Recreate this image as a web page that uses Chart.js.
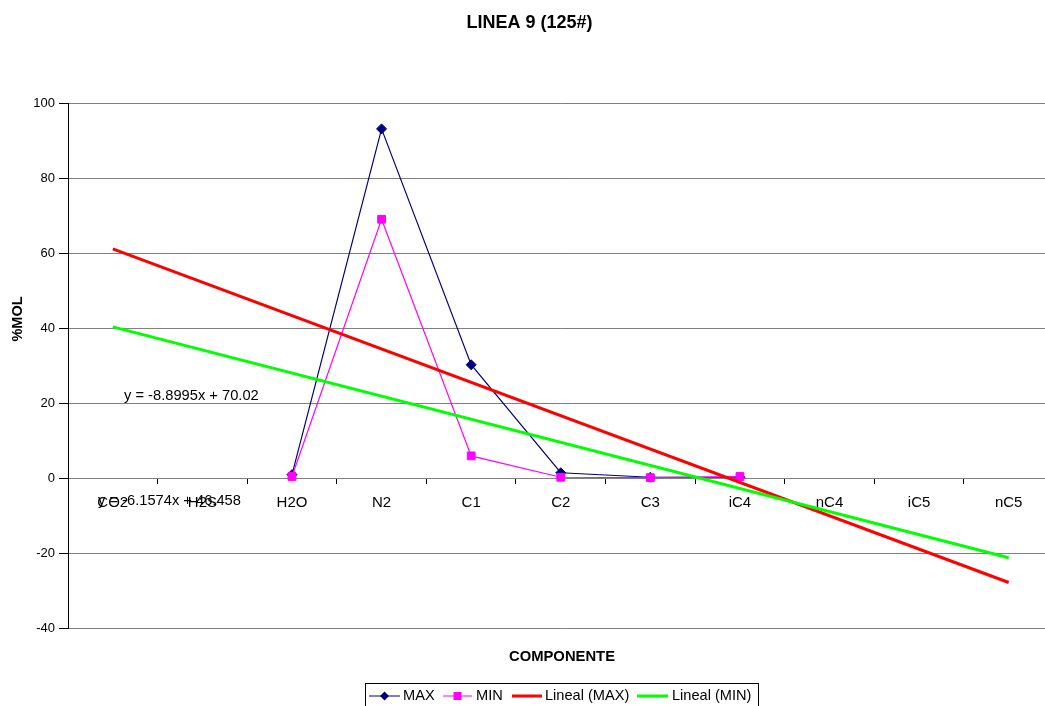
<!DOCTYPE html>
<html>
<head>
<meta charset="utf-8">
<script src="https://cdn.jsdelivr.net/npm/chart.js@4"></script>
<style>
html,body{margin:0;padding:0;overflow:hidden;background:#fff;}
canvas{display:block;}
</style>
</head>
<body>
<canvas id="c" width="1060" height="706"></canvas>
<script>
const chartTitle = 'LINEA 9 (125#)';
const xTitle = 'COMPONENTE';
const yTitle = '%MOL';
const categories = ['CO2','H2S','H2O','N2','C1','C2','C3','iC4','nC4','iC5','nC5'];
const maxValues = [null,null,0.9,93.1,30.2,1.4,0.2,0.2,null,null,null];
const minValues = [null,null,0.4,69.0,5.9,0.2,0.1,0.4,null,null,null];
const trendMaxValues = [61.12,null,null,null,null,null,null,null,null,null,-27.87];
const trendMinValues = [40.30,null,null,null,null,null,null,null,null,null,-21.27];
const yMin = -40, yMax = 100, yStep = 20;
const seriesNames = ['MAX','MIN','Lineal (MAX)','Lineal (MIN)'];
const eqMax = 'y = -8.8995x + 70.02';
const eqMin = 'y = -6.1574x + 46.458';

const FONT = '"Liberation Sans", Arial, sans-serif';

const textPlugin = {
  id: 'texts',
  afterDraw(chart) {
    const ctx = chart.ctx;
    ctx.save();
    ctx.fillStyle = '#000';
    // title
    ctx.font = 'bold 18px ' + FONT;
    ctx.textAlign = 'center';
    ctx.textBaseline = 'middle';
    ctx.fillText(chartTitle, 529.5, 23);
    // x title
    ctx.font = 'bold 14.8px ' + FONT;
    ctx.fillText(xTitle, 562, 657);
    // y title
    ctx.font = 'bold 14.5px ' + FONT;
    ctx.save();
    ctx.translate(18, 319);
    ctx.rotate(-Math.PI / 2);
    ctx.fillText(yTitle, 0, 0);
    ctx.restore();
    // equations
    ctx.font = '14.7px ' + FONT;
    ctx.textAlign = 'left';
    ctx.fillText(eqMax, 124, 396);
    ctx.fillText(eqMin, 98, 501);
    // legend
    const bx = 365, by = 683, bw = 393, bh = 26, cy = 696;
    ctx.fillStyle = '#fff';
    ctx.fillRect(bx, by, bw, bh);
    ctx.strokeStyle = '#000';
    ctx.lineWidth = 1;
    ctx.strokeRect(bx + 0.5, by + 0.5, bw, bh);
    const items = [
      {x1: 369, x2: 400, color: '#000080', lw: 1, marker: 'diamond', tx: 403},
      {x1: 443, x2: 472, color: '#FF00FF', lw: 1, marker: 'square', tx: 476},
      {x1: 512, x2: 542, color: '#FF0000', lw: 3, marker: null, tx: 545},
      {x1: 637, x2: 668, color: '#00FF00', lw: 3, marker: null, tx: 672}
    ];
    ctx.font = '14.6px ' + FONT;
    items.forEach((it, i) => {
      ctx.strokeStyle = it.color;
      ctx.lineWidth = it.lw;
      ctx.beginPath();
      ctx.moveTo(it.x1, cy);
      ctx.lineTo(it.x2, cy);
      ctx.stroke();
      const mx = (it.x1 + it.x2) / 2;
      ctx.fillStyle = it.color;
      if (it.marker === 'diamond') {
        ctx.beginPath();
        ctx.moveTo(mx, cy - 4.5); ctx.lineTo(mx + 4.5, cy); ctx.lineTo(mx, cy + 4.5); ctx.lineTo(mx - 4.5, cy);
        ctx.closePath(); ctx.fill();
      } else if (it.marker === 'square') {
        ctx.fillRect(mx - 4, cy - 4, 8, 8);
      }
      ctx.fillStyle = '#000';
      ctx.textBaseline = 'middle';
      ctx.fillText(seriesNames[i], it.tx, cy);
    });
    ctx.restore();
  }
};

new Chart(document.getElementById('c'), {
  type: 'line',
  data: {
    labels: categories,
    datasets: [
      {label: seriesNames[0], data: maxValues, borderColor: '#000080', backgroundColor: '#000080', borderWidth: 1.2,
       pointStyle: 'rectRot', pointRadius: 5, pointBorderWidth: 1, order: 3, spanGaps: false},
      {label: seriesNames[1], data: minValues, borderColor: '#FF00FF', backgroundColor: '#FF00FF', borderWidth: 1.2,
       pointStyle: 'rect', pointRadius: 5.5, pointBorderWidth: 1, order: 2, spanGaps: false},
      {label: seriesNames[2], data: trendMaxValues, borderColor: '#FF0000', borderWidth: 3, pointRadius: 0,
       spanGaps: true, order: 1},
      {label: seriesNames[3], data: trendMinValues, borderColor: '#00FF00', borderWidth: 3, pointRadius: 0,
       spanGaps: true, order: 0}
    ]
  },
  options: {
    responsive: false,
    animation: false,
    devicePixelRatio: 1,
    layout: {padding: {left: 0, top: 103, right: 5, bottom: 78}},
    plugins: {legend: {display: false}, title: {display: false}, tooltip: {enabled: false}},
    elements: {line: {tension: 0}},
    scales: {
      x: {
        type: 'category',
        position: {y: 0},
        offset: true,
        grid: {display: true, drawOnChartArea: false, drawTicks: true, tickLength: 5, offset: true, color: '#000', tickColor: '#000'},
        border: {display: true, color: '#808080', width: 1},
        ticks: {color: '#000', font: {family: FONT, size: 15}, padding: 11, maxRotation: 0, autoSkip: false}
      },
      y: {
        min: yMin, max: yMax,
        afterFit(scale) { scale.width = 68; },
        grid: {color: '#808080', lineWidth: 1, tickLength: 9, tickColor: '#000', drawTicks: true},
        border: {display: true, color: '#000', width: 1},
        ticks: {stepSize: yStep, color: '#000', font: {family: FONT, size: 13}, padding: 4}
      }
    }
  },
  plugins: [textPlugin]
});
</script>
</body>
</html>
